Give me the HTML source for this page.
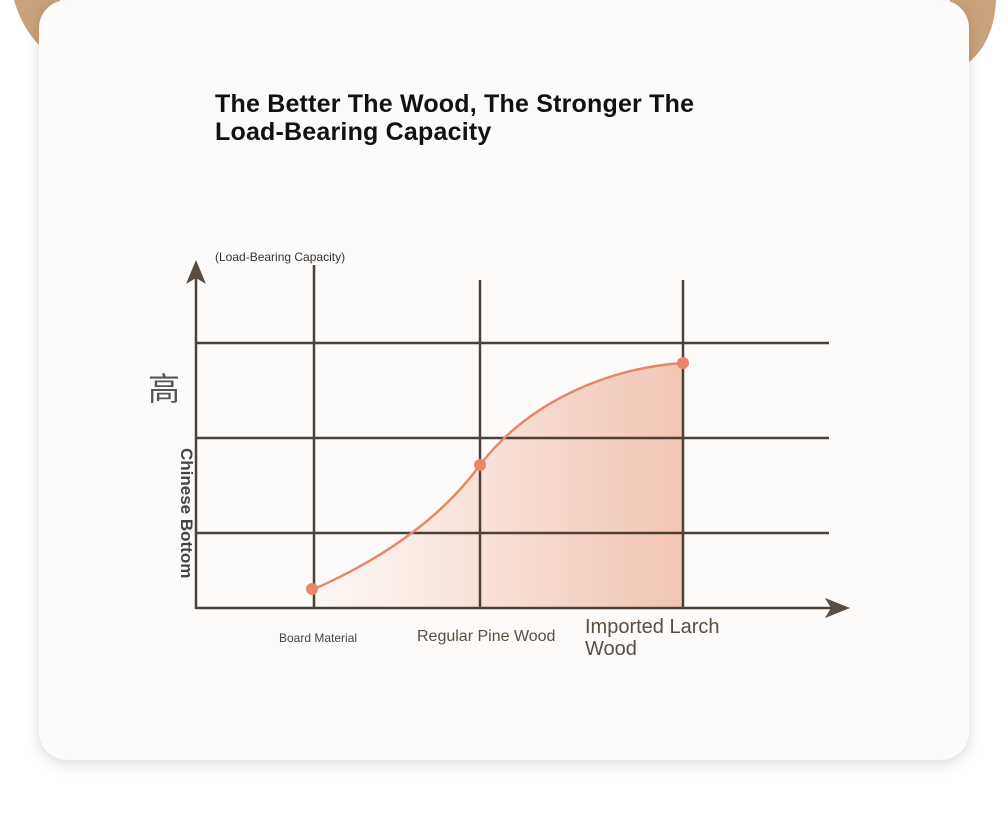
<!DOCTYPE html>
<html><head><meta charset="utf-8"><style>
body{margin:0;width:1008px;height:818px;background:#fff;position:relative;overflow:hidden;font-family:"Liberation Sans","Noto Sans CJK SC",sans-serif}
.card{position:absolute;left:39px;top:0px;width:930px;height:760px;background:#fcfbf9;border-radius:28px;box-shadow:0 4px 14px rgba(0,0,0,0.15)}
h1{position:absolute;left:215px;top:90px;margin:0;font-size:25px;line-height:28px;font-weight:bold;color:#111;letter-spacing:0.2px}
</style></head><body>
<svg width="1008" height="818" style="position:absolute;left:0;top:0">
<path d="M14,0 L60,0 L60,50 L40,46 Q22,28 14,0 Z" fill="#c9a27c"/>
<path d="M950,0 L996,0 Q994,42 968,63 L950,63 Z" fill="#c9a27c"/>
</svg>
<div class="card"></div>
<h1>The Better The Wood, The Stronger The<br>Load-Bearing Capacity</h1>
<svg width="1008" height="818" style="position:absolute;left:0;top:0">
<defs><linearGradient id="g" x1="0" x2="1"><stop offset="0" stop-color="#f4c7b6" stop-opacity="0.05"/><stop offset="1" stop-color="#f2c5b4"/></linearGradient></defs>
<path d="M312,590 C380,560 440,520 480,465 C530,400 610,368 683,363 L683,608 L312,608 Z" fill="url(#g)"/>
<g stroke="#4d4036" stroke-width="2.5" fill="none">
<line x1="196" y1="343" x2="829" y2="343"/>
<line x1="196" y1="438" x2="829" y2="438"/>
<line x1="196" y1="533" x2="829" y2="533"/>
<line x1="314" y1="265" x2="314" y2="608"/>
<line x1="480" y1="280" x2="480" y2="608"/>
<line x1="683" y1="280" x2="683" y2="608"/>
<line x1="196" y1="275" x2="196" y2="609"/>
<line x1="196" y1="608" x2="835" y2="608"/>
</g>
<polygon points="196,260 186,284 196,278 206,284" fill="#5a4d42"/>
<polygon points="850,608 825,598 831,608 825,618" fill="#5a4d42"/>
<path d="M312,590 C380,560 440,520 480,465 C530,400 610,368 683,363" stroke="#e8866a" stroke-width="2.5" fill="none"/>
<circle cx="312" cy="589" r="6" fill="#e8866a"/>
<circle cx="480" cy="465" r="6" fill="#e8866a"/>
<circle cx="683" cy="363" r="6" fill="#e8866a"/>
<text x="215" y="261" font-size="12" fill="#333">(Load-Bearing Capacity)</text>
<text x="148" y="400" font-size="32" fill="#555" font-family="Noto Sans CJK SC,sans-serif">高</text>
<text transform="translate(181,448) rotate(90)" font-size="17" font-weight="bold" fill="#444">Chinese Bottom</text>
<text x="279" y="642" font-size="12" fill="#444">Board Material</text>
<text x="417" y="641" font-size="16" fill="#5a4d42">Regular Pine Wood</text>
<text x="585" y="633" font-size="20" fill="#5a4d42">Imported Larch</text>
<text x="585" y="655" font-size="20" fill="#5a4d42">Wood</text>
</svg>
</body></html>
